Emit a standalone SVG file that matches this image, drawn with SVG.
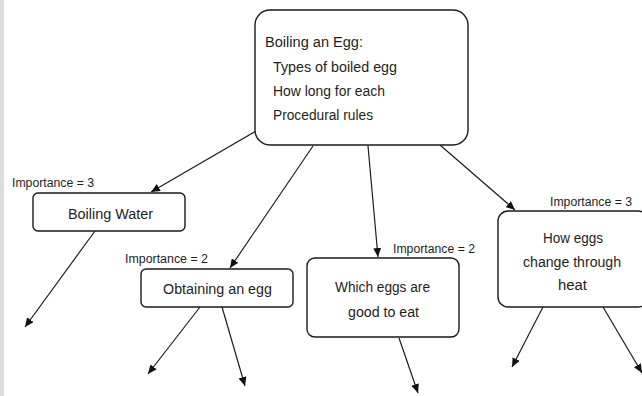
<svg xmlns="http://www.w3.org/2000/svg" width="642" height="396" viewBox="0 0 642 396">
<style>
.box{fill:#fff;stroke:#1a1a1a;stroke-width:1.4}
.t{font-family:"Liberation Sans",Arial,sans-serif;font-size:14px;fill:#1e1e1e}
.lbl{font-family:"Liberation Sans",Arial,sans-serif;font-size:12.5px;fill:#1e1e1e}
.conn line{stroke:#1e1e1e;stroke-width:1.2;marker-end:url(#ah)}
</style>
<defs>
<marker id="ah" markerUnits="userSpaceOnUse" markerWidth="10" markerHeight="8" refX="9" refY="4" orient="auto">
<path d="M0,0 L9,4 L0,8 z" fill="#111"/>
</marker>
</defs>
<rect x="0" y="0" width="642" height="396" fill="#fff"/>
<rect x="0" y="0" width="4" height="396" fill="#dcdcdc"/>
<g id="connectors" class="conn">
<line x1="256" y1="131" x2="151" y2="192"/>
<line x1="313" y1="146" x2="230" y2="268"/>
<line x1="368" y1="146" x2="378" y2="257"/>
<line x1="440" y1="145" x2="515" y2="210"/>
<line x1="95" y1="231" x2="25" y2="327"/>
<line x1="200" y1="307" x2="148" y2="374"/>
<line x1="222" y1="307" x2="245" y2="386"/>
<line x1="399" y1="338" x2="418" y2="393"/>
<line x1="543" y1="307" x2="512" y2="367"/>
<line x1="603" y1="307" x2="642" y2="373"/>
</g>
<g id="main">
<rect class="box" x="255" y="10" width="213" height="135" rx="15" ry="15"/>
<text class="t" x="265" y="47" textLength="98" lengthAdjust="spacingAndGlyphs">Boiling an Egg:</text>
<text class="t" x="273" y="72" textLength="124" lengthAdjust="spacingAndGlyphs">Types of boiled egg</text>
<text class="t" x="273" y="96" textLength="112" lengthAdjust="spacingAndGlyphs">How long for each</text>
<text class="t" x="273" y="120" textLength="100" lengthAdjust="spacingAndGlyphs">Procedural rules</text>
</g>
<g id="boiling-water">
<text class="lbl" x="12" y="187" textLength="82" lengthAdjust="spacingAndGlyphs">Importance = 3</text>
<rect class="box" x="33" y="193" width="152" height="38" rx="5" ry="5"/>
<text class="t" x="68" y="219" textLength="85" lengthAdjust="spacingAndGlyphs">Boiling Water</text>
</g>
<g id="obtaining-egg">
<text class="lbl" x="125" y="263" textLength="83" lengthAdjust="spacingAndGlyphs">Importance = 2</text>
<rect class="box" x="141" y="269" width="152" height="38" rx="5" ry="5"/>
<text class="t" x="163" y="294" textLength="109" lengthAdjust="spacingAndGlyphs">Obtaining an egg</text>
</g>
<g id="which-eggs">
<text class="lbl" x="393" y="253" textLength="82" lengthAdjust="spacingAndGlyphs">Importance = 2</text>
<rect class="box" x="307" y="258" width="152" height="79" rx="8" ry="8"/>
<text class="t" x="335" y="292" textLength="95" lengthAdjust="spacingAndGlyphs">Which eggs are</text>
<text class="t" x="348" y="317" textLength="71" lengthAdjust="spacingAndGlyphs">good to eat</text>
</g>
<g id="how-eggs">
<text class="lbl" x="550" y="206" textLength="82" lengthAdjust="spacingAndGlyphs">Importance = 3</text>
<rect class="box" x="498" y="211" width="150" height="96" rx="10" ry="10"/>
<text class="t" x="543" y="243" textLength="60" lengthAdjust="spacingAndGlyphs">How eggs</text>
<text class="t" x="523" y="267" textLength="98" lengthAdjust="spacingAndGlyphs">change through</text>
<text class="t" x="558" y="290" textLength="29" lengthAdjust="spacingAndGlyphs">heat</text>
</g>
</svg>
